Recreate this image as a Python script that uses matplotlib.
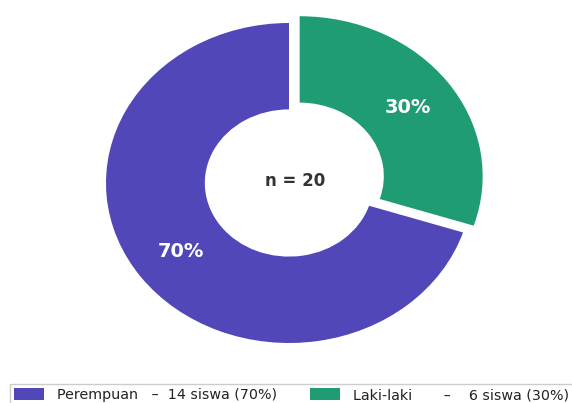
import matplotlib.pyplot as plt

# Data
labels = ['Perempuan', 'Laki-laki']
counts = [14, 6]
colors = ['#5247b8', '#1f9c74']
legend_labels = ['Perempuan   –  14 siswa (70%)', 'Laki-laki       –    6 siswa (30%)']
n_total = sum(counts)

fig = plt.figure(figsize=(5.72, 4.03), dpi=100)
W, H = 572, 403
# center (289, 183 from top), radius 183 x 160 px (image is a bit stretched)
cx, cy, rx, ry = 289, 403 - 183, 183, 160
k = 1.25
ax = fig.add_axes([(cx - rx * k) / W, (cy - ry * k) / H, 2 * rx * k / W, 2 * ry * k / H])

wedges, texts, autotexts = ax.pie(
    counts, colors=colors, startangle=90, counterclock=True,
    explode=[0, 0.072], autopct='%1.0f%%', pctdistance=0.73,
    wedgeprops=dict(width=0.54, edgecolor='white', linewidth=0),
    textprops=dict(color='white', fontsize=14, fontweight='bold'))
ax.set_aspect('auto')
ax.set_xlim(-k, k)
ax.set_ylim(-k, k)
ax.axis('off')

ax.text(0.033, 0.01, 'n = ' + str(n_total), ha='center', va='center',
        fontsize=12, fontweight='bold', color='#333333')

fig.legend(wedges, legend_labels, loc='upper left', ncol=2,
           bbox_to_anchor=(10 / W, 19 / H), fontsize=10.3, borderaxespad=0,
           handlelength=2.1, handleheight=0.9, columnspacing=2.3,
           borderpad=0.3, handletextpad=0.9, fancybox=False,
           edgecolor='#cccccc', framealpha=1, labelcolor='#222222')

plt.savefig('out.png', dpi=100)
